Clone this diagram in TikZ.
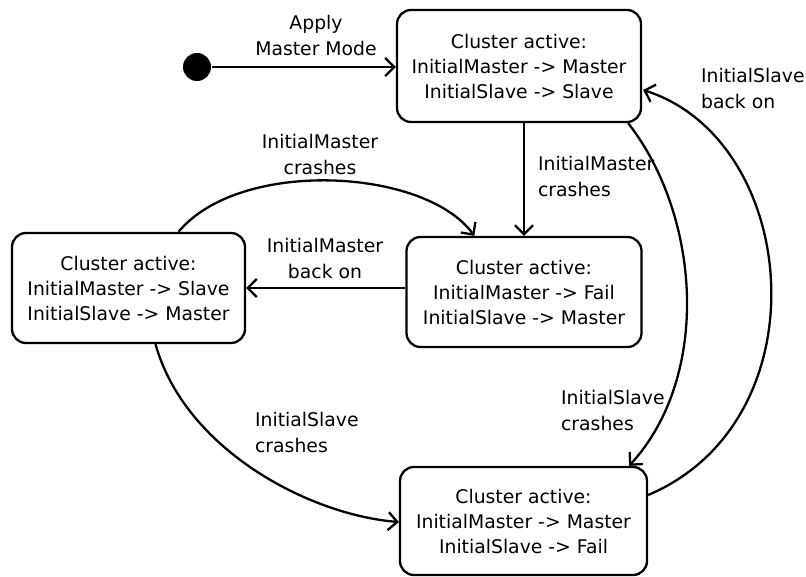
\documentclass[tikz,border=0pt]{standalone}
\usepackage{fontspec}
\setmainfont{DejaVu Sans}
\usetikzlibrary{arrows.meta,calc}
\begin{document}
\begin{tikzpicture}[x=1pt,y=-1pt,
  line width=2.3pt,
  >={Straight Barb[length=9pt,width=18pt,line width=2.3pt]},
  state/.style={draw,rounded corners=14pt,align=center,inner sep=0pt,
    font=\fontsize{18.8}{25}\selectfont},
  lbl/.style={inner sep=0pt,font=\fontsize{18.8}{26}\selectfont},
  lblc/.style={lbl,align=center},
  lbll/.style={lbl,align=left,anchor=west}]
\useasboundingbox (0,0) rectangle (806,577);

% states
\node[state,minimum width=244pt,minimum height=112pt] (top) at (519,66)
  {Cluster active:\\InitialMaster -> Master\\InitialSlave -> Slave};
\node[state,minimum width=235pt,minimum height=110pt] (mid) at (524,292)
  {Cluster active:\\InitialMaster -> Fail\\InitialSlave -> Master};
\node[state,minimum width=233pt,minimum height=110pt] (left) at (128.5,288)
  {Cluster active:\\InitialMaster -> Slave\\InitialSlave -> Master};
\node[state,minimum width=247pt,minimum height=108pt] (bot) at (523.5,521)
  {Cluster active:\\InitialMaster -> Master\\InitialSlave -> Fail};

% initial pseudo-state
\node[circle,fill=black,minimum size=28pt,inner sep=0pt] (start) at (197,67) {};

% transitions
\draw[->] (start) -- (top.west |- start);
\draw[->] (top.south -| mid.north) -- (mid.north);
\draw[->] (mid.west |- left.east) -- (left.east);
\draw[->] ($(left.north)+(50,0)$) .. controls (240,158) and (425,168) .. ($(mid.north west)+(69,0)$);
\draw[->] ($(left.south)+(27,0)$) .. controls (185,450) and (310,515) .. ($(bot.west)+(0,1)$);
\draw[->] ($(top.south east)+(-14,0)$) .. controls (700,215) and (712,375) .. ($(bot.north east)+(-19,0)$);
\draw[->] ($(bot.east)+(0,-26)$) .. controls (825,420) and (800,140) .. ($(top.east)+(1,24)$);

% labels
\node[lblc] (l1) at (316,35) {Apply\\Master Mode};
\node[lblc] (l2) at (320,154) {InitialMaster\\crashes};
\node[lbll] (l3) at (537,176) {InitialMaster\\crashes};
\node[lblc] (l4) at (325,258) {InitialMaster\\back on};
\node[lbll] (l5) at (254,432) {InitialSlave\\crashes};
\node[lbll] (l6) at (560,410) {InitialSlave\\crashes};
\node[lbll] (l7) at (700,88) {InitialSlave\\back on};
\end{tikzpicture}
\end{document}
